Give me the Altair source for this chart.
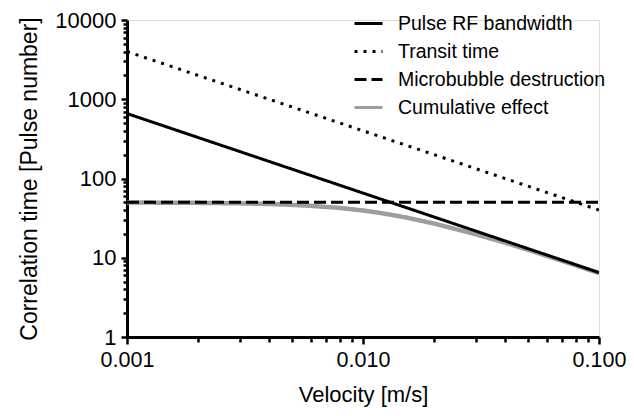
import altair as alt
import pandas as pd

series_names = ["Pulse RF bandwidth", "Transit time", "Microbubble destruction", "Cumulative effect"]

pulse_v = [0.001, 0.1]
pulse_t = [660, 6.5]

transit_v = [0.001, 0.1]
transit_t = [4000, 40]

destr_v = [0.001, 0.1]
destr_t = [50, 50]

cum_v = [0.001, 0.002, 0.003, 0.004, 0.005, 0.006, 0.008, 0.01, 0.012, 0.015,
         0.02, 0.03, 0.04, 0.05, 0.07, 0.1]
cum_t = [49.8, 49.3, 48.6, 47.7, 46.5, 45.2, 42.5, 39.5, 36.5, 32.5,
         27, 19.8, 15.5, 12.6, 9.1, 6.4]

x_ticks = [0.001, 0.002, 0.003, 0.004, 0.005, 0.006, 0.007, 0.008, 0.009,
           0.01, 0.02, 0.03, 0.04, 0.05, 0.06, 0.07, 0.08, 0.09, 0.1]
y_ticks = [1, 2, 3, 4, 5, 6, 7, 8, 9,
           10, 20, 30, 40, 50, 60, 70, 80, 90,
           100, 200, 300, 400, 500, 600, 700, 800, 900,
           1000, 2000, 3000, 4000, 5000, 6000, 7000, 8000, 9000, 10000]

rows = []
for v, t in zip(pulse_v, pulse_t):
    rows.append({"v": v, "t": t, "series": series_names[0]})
for v, t in zip(transit_v, transit_t):
    rows.append({"v": v, "t": t, "series": series_names[1]})
for v, t in zip(destr_v, destr_t):
    rows.append({"v": v, "t": t, "series": series_names[2]})
df_main = pd.DataFrame(rows)
df_cum = pd.DataFrame({"v": cum_v, "t": cum_t, "series": series_names[3]})

major = "abs(log(datum.value)/LN10 - round(log(datum.value)/LN10)) < 0.001"
FONT = "Liberation Sans"

x_enc = alt.X("v:Q",
              scale=alt.Scale(type="log", domain=[0.001, 0.1], nice=False),
              axis=alt.Axis(values=x_ticks, format=".3f",
                            labelExpr=f"{major} ? format(datum.value, '.3f') : ''",
                            title="Velocity [m/s]", grid=False,
                            tickSize={"condition": {"test": major, "value": 7}, "value": 5},
                            tickWidth=2.5, domainWidth=3, domainColor="black", tickColor="black",
                            labelFontSize=21.5, titleFontSize=22, labelFont=FONT, titleFont=FONT,
                            labelColor="black", titleColor="black", titleFontWeight="normal",
                            labelPadding=5, titlePadding=14, labelFlush=False, labelOverlap=False))
y_enc = alt.Y("t:Q",
              scale=alt.Scale(type="log", domain=[1, 10000], nice=False),
              axis=alt.Axis(values=y_ticks,
                            labelExpr=f"{major} ? format(datum.value, 'd') : ''",
                            title="Correlation time [Pulse number]", grid=False,
                            tickSize={"condition": {"test": major, "value": 6}, "value": 4},
                            tickWidth=2.5, domainWidth=3, domainColor="black", tickColor="black",
                            labelFontSize=22, titleFontSize=23, labelFont=FONT, titleFont=FONT,
                            labelColor="black", titleColor="black", titleFontWeight="normal",
                            labelPadding=5, titlePadding=13, labelFlush=False, labelOverlap=False))

legend = alt.Legend(title=None, orient="none", legendX=226, legendY=-12,
                    symbolType="stroke", symbolSize=784, symbolStrokeWidth=3,
                    labelFontSize=19.5, labelFont=FONT, labelColor="black", labelLimit=400,
                    labelOffset=14, rowPadding=3, padding=0)

color = alt.Color("series:N", scale=alt.Scale(domain=series_names,
                  range=["black", "black", "black", "#9e9e9e"]), legend=legend)
dash = alt.StrokeDash("series:N", scale=alt.Scale(domain=series_names,
                      range=[[1, 0], [3, 6], [12, 5], [1, 0]]), legend=legend)

cum_layer = alt.Chart(df_cum).mark_line(strokeWidth=4.5, clip=True).encode(
    x=x_enc, y=y_enc, color=color, strokeDash=dash)
main_layer = alt.Chart(df_main).mark_line(strokeWidth=3, clip=True).encode(
    x=x_enc, y=y_enc, color=color, strokeDash=dash)

chart = alt.layer(cum_layer, main_layer).properties(
    width=472, height=317, autosize="none",
    padding={"left": 119, "top": 12, "right": 27, "bottom": 71},
).configure_view(stroke=None).configure(background="white")

chart.save("out.html", embed_options={"renderer": "svg", "actions": False})
